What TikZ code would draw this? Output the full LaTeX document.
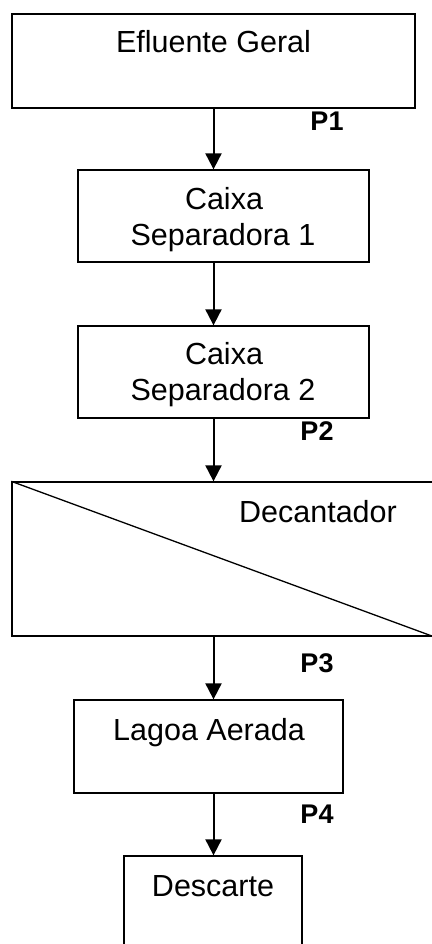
\documentclass[tikz,border=0pt]{standalone}
\usepackage{fontspec}
\setmainfont{Liberation Sans}
\usetikzlibrary{arrows.meta}
\begin{document}
\begin{tikzpicture}[x=1pt,y=-1pt,
  box/.style={draw=black,line width=1.3pt,rectangle,inner sep=0pt},
  lbl/.style={anchor=base,inner sep=0pt,font=\fontsize{30.5}{36}\selectfont,text=black},
  plbl/.style={anchor=base,inner sep=0pt,font=\fontsize{27}{32}\selectfont\bfseries,text=black},
  flow/.style={line width=2pt,-{Triangle[width=16pt,length=16pt]}}]
\useasboundingbox (0,0) rectangle (431,944);
% boxes
\node[box,minimum width=403pt,minimum height=94pt] (b1) at (213.5,61) {};
\node[box,minimum width=291pt,minimum height=92pt] (b2) at (223.5,216) {};
\node[box,minimum width=291pt,minimum height=92pt] (b3) at (223.5,372) {};
\node[box,minimum width=421pt,minimum height=154pt] (dec) at (222.5,559) {};
\node[box,minimum width=269pt,minimum height=93pt] (lag) at (208.5,746.5) {};
\node[box,minimum width=178pt,minimum height=130pt] (des) at (213,921) {};
\draw[line width=1.3pt] (dec.north west) -- (dec.south east);
% texts
\node[lbl] (t1) at (213.5,53) {Efluente Geral};
\node[lbl] (t2a) at (224,209) {Caixa};
\node[lbl] (t2b) at (223,245) {Separadora 1};
\node[lbl] (t3a) at (224,364) {Caixa};
\node[lbl] (t3b) at (223,400) {Separadora 2};
\node[lbl] (t4) at (318,522) {Decantador};
\node[lbl] (t5) at (209,740) {Lagoa Aerada};
\node[lbl] (t6) at (213,896) {Descarte};
\node[plbl] (p1) at (327,131) {P1};
\node[plbl] (p2) at (317,440) {P2};
\node[plbl] (p3) at (317,672) {P3};
\node[plbl] (p4) at (317,823) {P4};
% connectors
\draw[flow] (b1.south) -- (b1.south |- b2.north);
\draw[flow] (b2.south -| b1.south) -- (b3.north -| b1.south);
\draw[flow] (b3.south -| b1.south) -- (dec.north -| b1.south);
\draw[flow] (dec.south -| b1.south) -- (lag.north -| b1.south);
\draw[flow] (lag.south -| b1.south) -- (des.north -| b1.south);
\end{tikzpicture}
\end{document}
